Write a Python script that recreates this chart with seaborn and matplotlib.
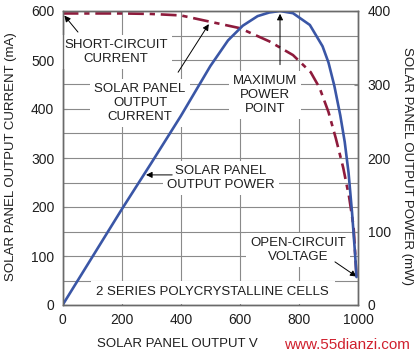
import numpy as np
import pandas as pd
import matplotlib
matplotlib.use("Agg")
import matplotlib.pyplot as plt
import seaborn as sns

# values
voltage_i = [0, 200, 300, 400, 500, 600, 700, 780, 840, 870, 900, 925, 950, 970, 985, 995]
current_ma = [595, 595, 594, 591, 578, 565, 538, 510, 475, 443, 394, 340, 280, 220, 160, 58]

voltage_p = [0, 100, 200, 300, 400, 500, 560, 610, 660, 700, 736, 780, 837, 880, 900, 920, 940, 955, 968, 980, 990, 995]
power_mw = [0, 65, 130, 193, 257, 325, 360, 380, 393, 398, 400, 397, 381, 352, 330, 298, 258, 222, 180, 125, 70, 38]

x_ticks = [0, 200, 400, 600, 800, 1000]
left_ticks = [0, 100, 200, 300, 400, 500, 600]
right_ticks = [0, 100, 200, 300, 400]

df_i = pd.DataFrame({"V": voltage_i, "I": current_ma})
df_p = pd.DataFrame({"V": voltage_p, "P": power_mw})

sns.set_style("white")
plt.rcParams['font.family'] = ['Liberation Sans', 'DejaVu Sans']

BLUE = "#3a56a6"
RED = "#8e1b3c"
GRID = "#8a8a8a"
TXT = "#1e1e1e"
FS = 9.5

fig = plt.figure(figsize=(4.16, 3.59), dpi=100)
ax = fig.add_axes([62.6 / 416, 54 / 359, 295.4 / 416, 294 / 359])
ax2 = ax.twinx()

# current (dashed) on the left axis
sns.lineplot(data=df_i, x="V", y="I", ax=ax, color=RED, lw=1.9,
             linestyle=(0, (6, 2.2, 2, 2.2)), sort=False)
# power (solid) on the right axis
sns.lineplot(data=df_p, x="V", y="P", ax=ax2, color=BLUE, lw=1.9, sort=False)

ax.set_xlim(0, 1000)
ax.set_ylim(0, 600)
ax2.set_ylim(0, 400)
ax.set_xticks(x_ticks)
ax.set_yticks(left_ticks)
ax.set_yticks(np.arange(50, 600, 100), minor=True)
ax2.set_yticks(right_ticks)

ax.grid(which='both', axis='y', color=GRID, lw=0.8)
ax.grid(which='major', axis='x', color=GRID, lw=0.8)
for a in (ax, ax2):
    a.set_xlabel("")
    a.set_ylabel("")
    a.tick_params(which='both', direction='in', length=3, color=GRID,
                  labelsize=10, labelcolor=TXT)
    for s in a.spines.values():
        s.set_color("#6a6a6a")
        s.set_linewidth(1.0)
ax.tick_params(axis='y', pad=6)
ax.tick_params(axis='x', pad=6)
ax2.tick_params(axis='y', pad=7)

tfont = dict(fontsize=FS, color=TXT, ha='center', va='center',
             linespacing=1.2, zorder=6,
             bbox=dict(facecolor='white', edgecolor='none', pad=3))
arrow = dict(arrowstyle='-|>', color='black', lw=0.7, mutation_scale=9,
             shrinkA=0, shrinkB=2)

ax.text(181, 517, "SHORT-CIRCUIT\nCURRENT", **tfont)
ax.annotate("", xy=(voltage_i[0], current_ma[0]), xytext=(52, 557),
            arrowprops=arrow, zorder=7)

ax.text(262, 412, "SOLAR PANEL\nOUTPUT\nCURRENT", **tfont)
ax.annotate("", xy=(voltage_i[4], current_ma[4]), xytext=(391, 475),
            arrowprops=arrow, zorder=7)

peak = int(np.argmax(power_mw))
ax.text(685, 429, "MAXIMUM\nPOWER\nPOINT", **tfont)
ax2.annotate("", xy=(voltage_p[peak], power_mw[peak]), xytext=(voltage_p[peak], 327),
             arrowprops=arrow, zorder=7)

ax.text(536, 259, "SOLAR PANEL\nOUTPUT POWER", **tfont)
ax2.annotate("", xy=(273, 177), xytext=(371, 177),
             arrowprops=arrow, zorder=7)

ax.text(797, 112, "OPEN-CIRCUIT\nVOLTAGE", **tfont)
ax.annotate("", xy=(voltage_i[-1], current_ma[-1]), xytext=(922, 88),
            arrowprops=dict(arrow, shrinkB=0), zorder=7)

ax.text(508, 26, "2 SERIES POLYCRYSTALLINE CELLS",
        **dict(tfont, bbox=dict(facecolor='white', edgecolor='none', pad=4)))

# axis titles
fig.text(11 / 416, 1 - 157 / 359, "SOLAR PANEL OUTPUT CURRENT (mA)", rotation=90,
         ha='center', va='center', fontsize=FS, color=TXT)
fig.text(407 / 416, 1 - 166 / 359, "SOLAR PANEL OUTPUT POWER (mW)", rotation=270,
         ha='center', va='center', fontsize=FS, color=TXT)
fig.text(177 / 416, 1 - 344 / 359, "SOLAR PANEL OUTPUT V",
         ha='center', va='center', fontsize=FS, color=TXT)
fig.text(347 / 416, 1 - 345 / 359, "www.55dianzi.com",
         ha='center', va='center', fontsize=11, color="#d0202e")

fig.savefig("out.png", dpi=100)
